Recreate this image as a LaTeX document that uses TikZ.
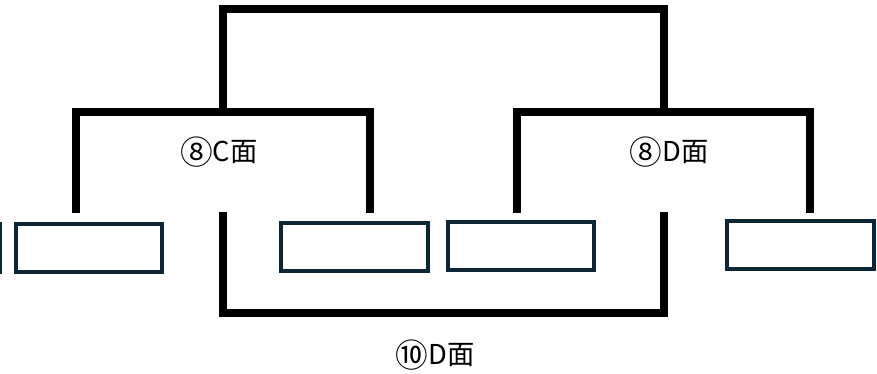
\documentclass[tikz,border=0pt]{standalone}
\usepackage{fontspec}
\newfontfamily\cjk{Noto Sans CJK JP}
\definecolor{boxnavy}{RGB}{12,38,54}
\usepackage{tikz}
\usetikzlibrary{positioning}
\newcommand{\circnum}[1]{\raisebox{-0.09em}{\fontsize{24.5}{24}\selectfont #1}}

\begin{document}
\begin{tikzpicture}[
    x=0.75pt, y=-0.75pt,
    slot/.style={rectangle, draw=boxnavy, line width=3pt, fill=white,
                 minimum width=110pt, minimum height=36pt, inner sep=0pt},
    bracket/.style={draw=black, line width=6pt, line join=miter},
    facelabel/.style={font=\cjk\fontsize{20.5}{24}\selectfont, inner sep=0pt}
]
\useasboundingbox (0,0) rectangle (877,374);
\clip (0,0) rectangle (877,374);

% slots
\node[slot] (s0) at (-73.5,247.5) {};
\node[slot] (s1) at (89,247.5) {};
\node[slot] (s2) at (354.5,247) {};
\node[slot] (s3) at (521,245.5) {};
\node[slot] (s4) at (800.5,245) {};

% bracket ends
\coordinate (cl) at (76,213);
\coordinate (cr) at (370,213);
\coordinate (dl) at (517,213);
\coordinate (dr) at (810,213);
\coordinate (ct) at (223,112);
\coordinate (dt) at (664,112);
\coordinate (bl) at (223,212);
\coordinate (br) at (664,212);

% brackets
\draw[bracket] (cl) |- (ct) -| (cr);
\draw[bracket] (dl) |- (dt) -| (dr);
\draw[bracket] (ct) -- ++(0,-103) -| (dt);
\draw[bracket] (bl) -- ++(0,101) -| (br);

% labels
\node[facelabel] (lc) at (219,152) {\circnum{⑧}C面};
\node[facelabel] (ld) at (669,152) {\circnum{⑧}D面};
\node[facelabel] (lb) at (435,355) {\circnum{⑩}D面};
\end{tikzpicture}
\end{document}
